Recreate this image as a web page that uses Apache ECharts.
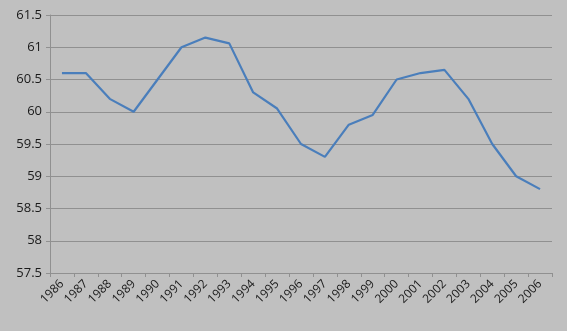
<!DOCTYPE html>
<html>
<head>
<meta charset="utf-8">
<script src="https://cdn.jsdelivr.net/npm/echarts@6/dist/echarts.min.js"></script>
<style>
  html, body { margin: 0; padding: 0; background: #c0c0c0; }
</style>
</head>
<body>
<div id="main" style="width: 567px; height: 331px;"></div>
<script>
var years = ['1986', '1987', '1988', '1989', '1990', '1991', '1992', '1993', '1994', '1995', '1996',
  '1997', '1998', '1999', '2000', '2001', '2002', '2003', '2004', '2005', '2006'];
var values = [60.6, 60.6, 60.2, 60.0, 60.5, 61.0, 61.15, 61.06, 60.3, 60.05, 59.5,
  59.3, 59.8, 59.95, 60.5, 60.6, 60.65, 60.2, 59.5, 59.0, 58.8];

var chart = echarts.init(document.getElementById('main'));
var option = {
  backgroundColor: '#c0c0c0',
  animation: false,
  grid: { left: 50, right: 15, top: 15, bottom: 58 },
  xAxis: {
    type: 'category',
    data: years,
    boundaryGap: true,
    axisLine: { lineStyle: { color: '#909090', width: 1 } },
    axisTick: { show: true, length: 4, lineStyle: { color: '#909090' } },
    axisLabel: {
      interval: 0,
      rotate: 45,
      color: '#1a1a1a',
      fontFamily: 'Open Sans',
      fontSize: 12,
      margin: 9
    }
  },
  yAxis: {
    type: 'value',
    min: 57.5,
    max: 61.5,
    interval: 0.5,
    axisLine: { show: true, lineStyle: { color: '#909090' } },
    axisTick: { show: true, length: 4, lineStyle: { color: '#909090' } },
    splitLine: { lineStyle: { color: '#909090', width: 1 } },
    axisLabel: {
      color: '#1a1a1a',
      fontFamily: 'Open Sans',
      fontSize: 13,
      margin: 8
    }
  },
  series: [{
    type: 'line',
    data: values,
    symbol: 'none',
    lineStyle: { color: '#4a7ebb', width: 2.2 }
  }]
};
chart.setOption(option);
</script>
</body>
</html>
